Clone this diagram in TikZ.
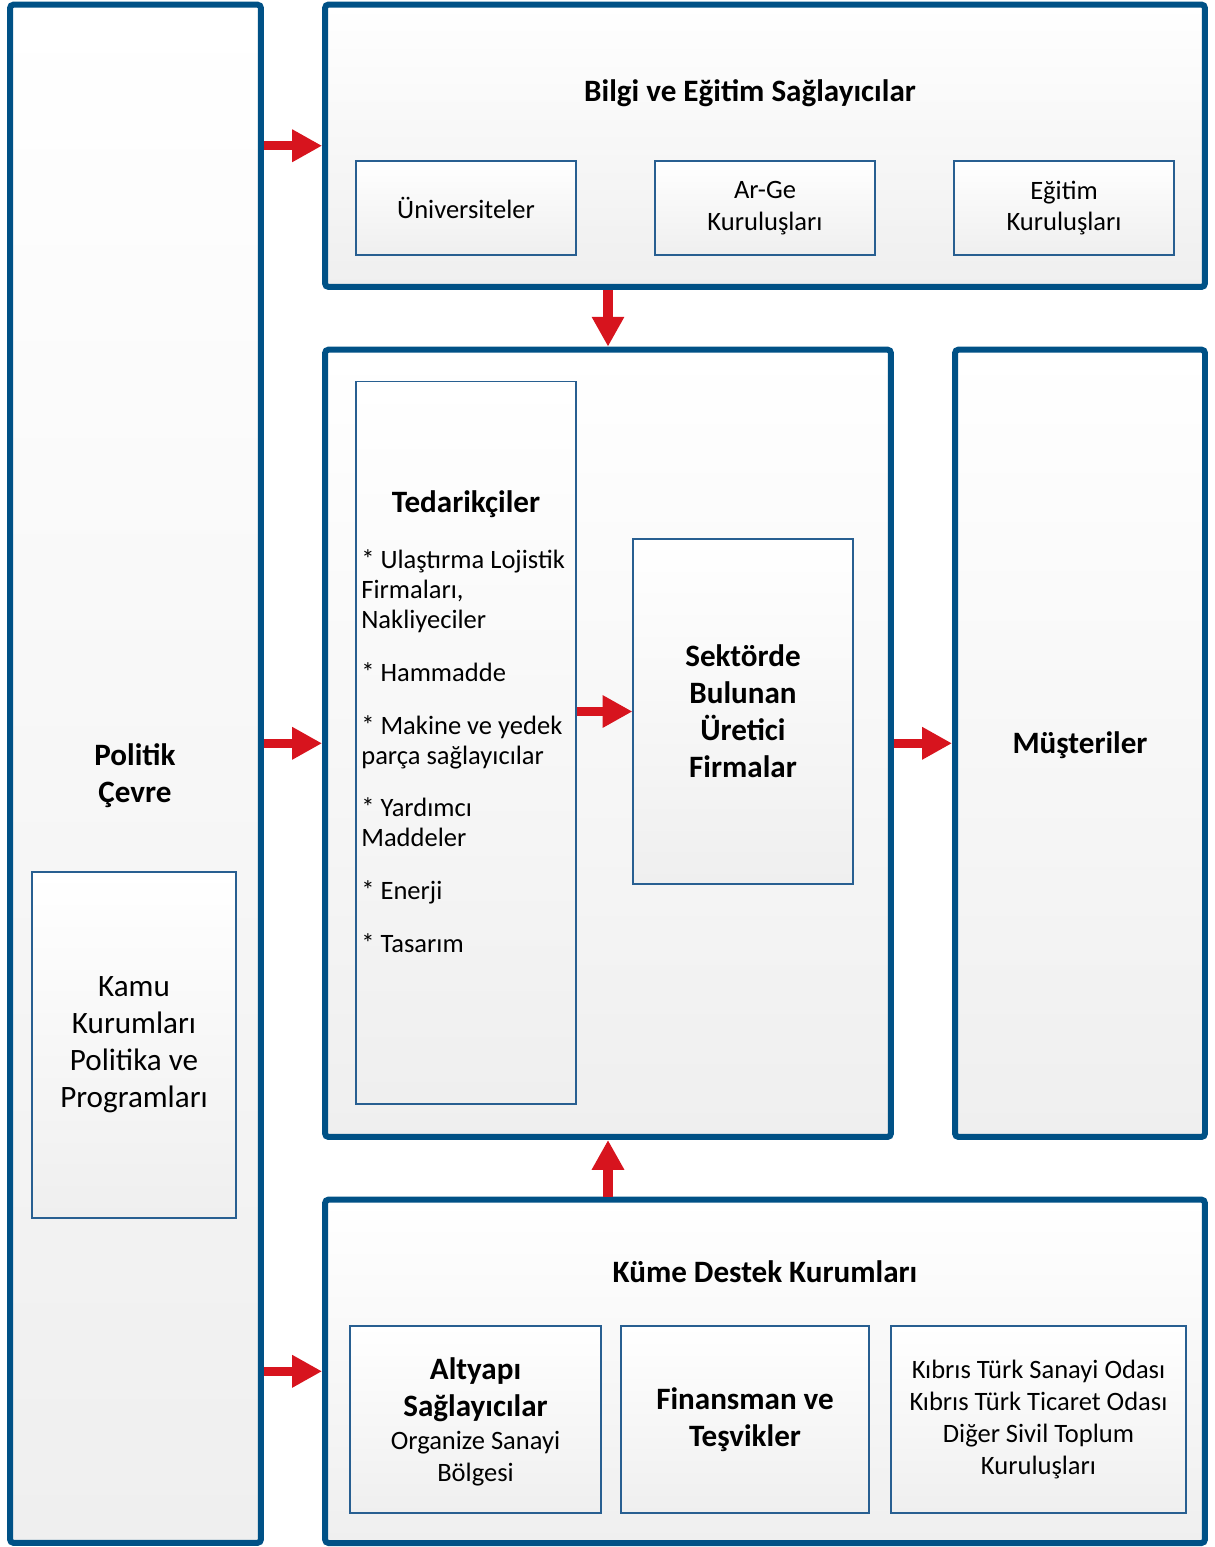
\documentclass[tikz,border=0pt]{standalone}
\usepackage{fontspec}
\setmainfont{Carlito}
\usetikzlibrary{arrows.meta}

\definecolor{frameblue}{RGB}{0,81,134}
\definecolor{lineblue}{RGB}{40,95,145}
\definecolor{arrowred}{RGB}{215,20,30}
\definecolor{shadegray}{RGB}{239,239,239}

\newcommand{\smallfnt}{\fontsize{15.1}{18.1}\selectfont}
\newcommand{\bigfnt}{\fontsize{17.7}{21.1}\selectfont}

\begin{document}
\begin{tikzpicture}[x=0.02cm,y=-0.02cm,
    outerbox/.style={draw=frameblue, line width=3.4pt, rounded corners=2pt,
        top color=white, bottom color=shadegray, inner sep=0pt},
    innerbox/.style={draw=lineblue, line width=0.65pt, top color=white,
        bottom color=shadegray, inner sep=0pt, align=center},
    redarrow/.style={draw=arrowred, line width=5.3pt,
        -{Triangle[length=17pt,width=17.4pt]}},
    headtxt/.style={font=\bfseries\bigfnt, align=center},
    bigbold/.style={font=\bfseries\bigfnt, align=center},
    smalltxt/.style={font=\smallfnt, align=center}]

    \useasboundingbox (0,0) rectangle (1214,1547);

    % outer frames
    \node[outerbox, minimum width=5.02cm, minimum height=30.77cm] (politik) at (135.5,773.75) {};
    \node[outerbox, minimum width=17.6cm, minimum height=5.65cm] (bilgi) at (765,145.75) {};
    \node[outerbox, minimum width=11.32cm, minimum height=15.75cm] (mid) at (608,743.3) {};
    \node[outerbox, minimum width=5cm, minimum height=15.75cm] (mus) at (1080,743.3) {};
    \node[outerbox, minimum width=17.6cm, minimum height=6.87cm] (kume) at (765,1371.3) {};

    % inner boxes
    \node[innerbox, font=\smallfnt, minimum width=4.4cm, minimum height=1.88cm] (uni) at (466,208) {Üniversiteler};
    \node[innerbox, font=\smallfnt, minimum width=4.4cm, minimum height=1.88cm] (arge) at (765,208) {Ar-Ge\\Kuruluşları};
    \node[innerbox, font=\smallfnt, minimum width=4.4cm, minimum height=1.88cm] (egitim) at (1064,208) {Eğitim\\Kuruluşları};
    \node[innerbox, minimum width=4.4cm, minimum height=14.46cm] (ted) at (466,742.5) {};
    \node[innerbox, font=\bfseries\bigfnt, minimum width=4.4cm, minimum height=6.9cm] (sek) at (743,711.5) {Sektörde\\Bulunan\\Üretici\\Firmalar};
    \node[innerbox, font=\bigfnt, minimum width=4.08cm, minimum height=6.92cm] (kamu) at (134,1045) {Kamu\\Kurumları\\Politika ve\\Programları};
    \node[innerbox, minimum width=5.02cm, minimum height=3.74cm] (alt) at (475.5,1419.5) {};
    \node[innerbox, font=\bfseries\bigfnt, minimum width=4.96cm, minimum height=3.74cm] (fin) at (745,1419.5) {Finansman ve\\Teşvikler};
    \node[innerbox, font=\smallfnt, minimum width=5.9cm, minimum height=3.74cm] (kib) at (1038.5,1419.5) {Kıbrıs Türk Sanayi Odası\\Kıbrıs Türk Ticaret Odası\\Diğer Sivil Toplum\\Kuruluşları};

    % titles
    \node[headtxt] (bilgititle) at (750,93) {Bilgi ve Eğitim Sağlayıcılar};
    \node[headtxt] (kumetitle) at (765,1272) {Küme Destek Kurumları};
    \node[bigbold] (politiktitle) at (135,776) {Politik\\Çevre};
    \node[bigbold] (mustitle) at (1080,745) {Müşteriler};
    \node[headtxt] (tedtitle) at (466,504) {Tedarikçiler};
    \node[font=\fontsize{15.1}{17}\selectfont, align=left, anchor=base west, inner sep=0pt] (tedlist) at (361,952)
        {* Ulaştırma Lojistik\\Firmaları,\\Nakliyeciler\\[13pt]
         * Hammadde\\[13pt]
         * Makine ve yedek\\parça sağlayıcılar\\[13pt]
         * Yardımcı\\Maddeler\\[13pt]
         * Enerji\\[13pt]
         * Tasarım};
    \node[bigbold] (alttitle) at (475.5,1389.5) {Altyapı\\Sağlayıcılar};
    \node[smalltxt] (altsub) at (475.5,1459) {Organize Sanayi\\Bölgesi};

    % arrows
    \draw[redarrow] (politik.east |- bilgi.west) -- (bilgi.west);
    \draw[redarrow] (politik.east |- mid.west) -- (mid.west);
    \draw[redarrow] (politik.east |- kume.west) -- (kume.west);
    \draw[redarrow] (ted.east |- sek.west) -- (sek.west);
    \draw[redarrow] (mid.east) -- (mus.west);
    \draw[redarrow] (bilgi.south -| mid.north) -- (mid.north);
    \draw[redarrow] (kume.north -| mid.south) -- (mid.south);

\end{tikzpicture}
\end{document}
